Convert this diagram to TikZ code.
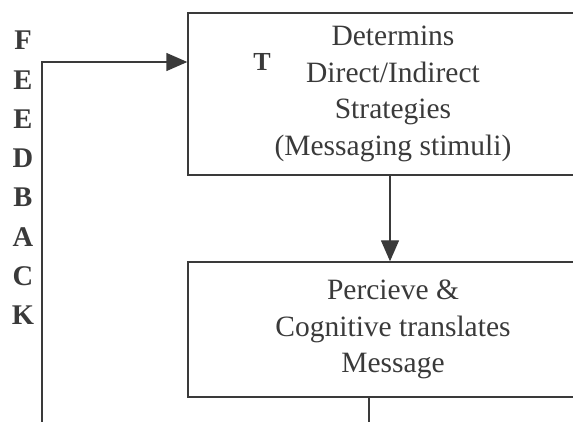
\documentclass[tikz,border=0pt]{standalone}
\usepackage{fontspec}
\setmainfont{Liberation Serif}
\usetikzlibrary{arrows.meta}
\definecolor{inkgray}{RGB}{58,58,58}
\tikzset{every picture/.style={line width=1.4pt}}
\tikzset{
	stagebox/.style={draw=inkgray, rectangle, minimum width=410, align=center, inner sep=0pt, text=inkgray, font=\fontsize{29.5}{36.5}\selectfont},
	flowarrow/.style={draw=inkgray, -{Triangle[length=21pt,width=18pt]}},
	letterlabel/.style={text=inkgray, align=center, font=\bfseries\fontsize{28.5}{39.3}\selectfont}}

\begin{document}
\begin{tikzpicture}[x=1pt,y=1pt,yscale=-1]
	\useasboundingbox (0,0) rectangle (573,422);
	\clip (0,0) rectangle (573,422);

	%Shape: Rectangle [id:strat]
	\node[stagebox, minimum height=162] (strat) at (393,94) {Determins\\Direct/Indirect\\Strategies\\(Messaging stimuli)};
	%Shape: Rectangle [id:percv]
	\node[stagebox, minimum height=135] (percv) at (393,329.5) {Percieve \&\\Cognitive translates\\Message};

	% Text Node
	\node[text=inkgray, font=\bfseries\fontsize{26}{26}\selectfont] (tlabel) at (262,62) {T};
	% Text Node
	\node[letterlabel] (fback) at (23,178) {F\\E\\E\\D\\B\\A\\C\\K};

	% free ends of the lines
	\coordinate (fbBot) at (42,430);
	\coordinate (midx) at (390,0);
	\coordinate (outx) at (369,430);

	%Straight Lines [id:feedback]
	\draw[flowarrow] (fbBot) |- (strat.west |- tlabel);
	%Straight Lines [id:stratpercv]
	\draw[flowarrow] (strat.south -| midx) -- (percv.north -| midx);
	%Straight Lines [id:percvout]
	\draw[draw=inkgray] (percv.south -| outx) -- (outx);

\end{tikzpicture}
\end{document}
